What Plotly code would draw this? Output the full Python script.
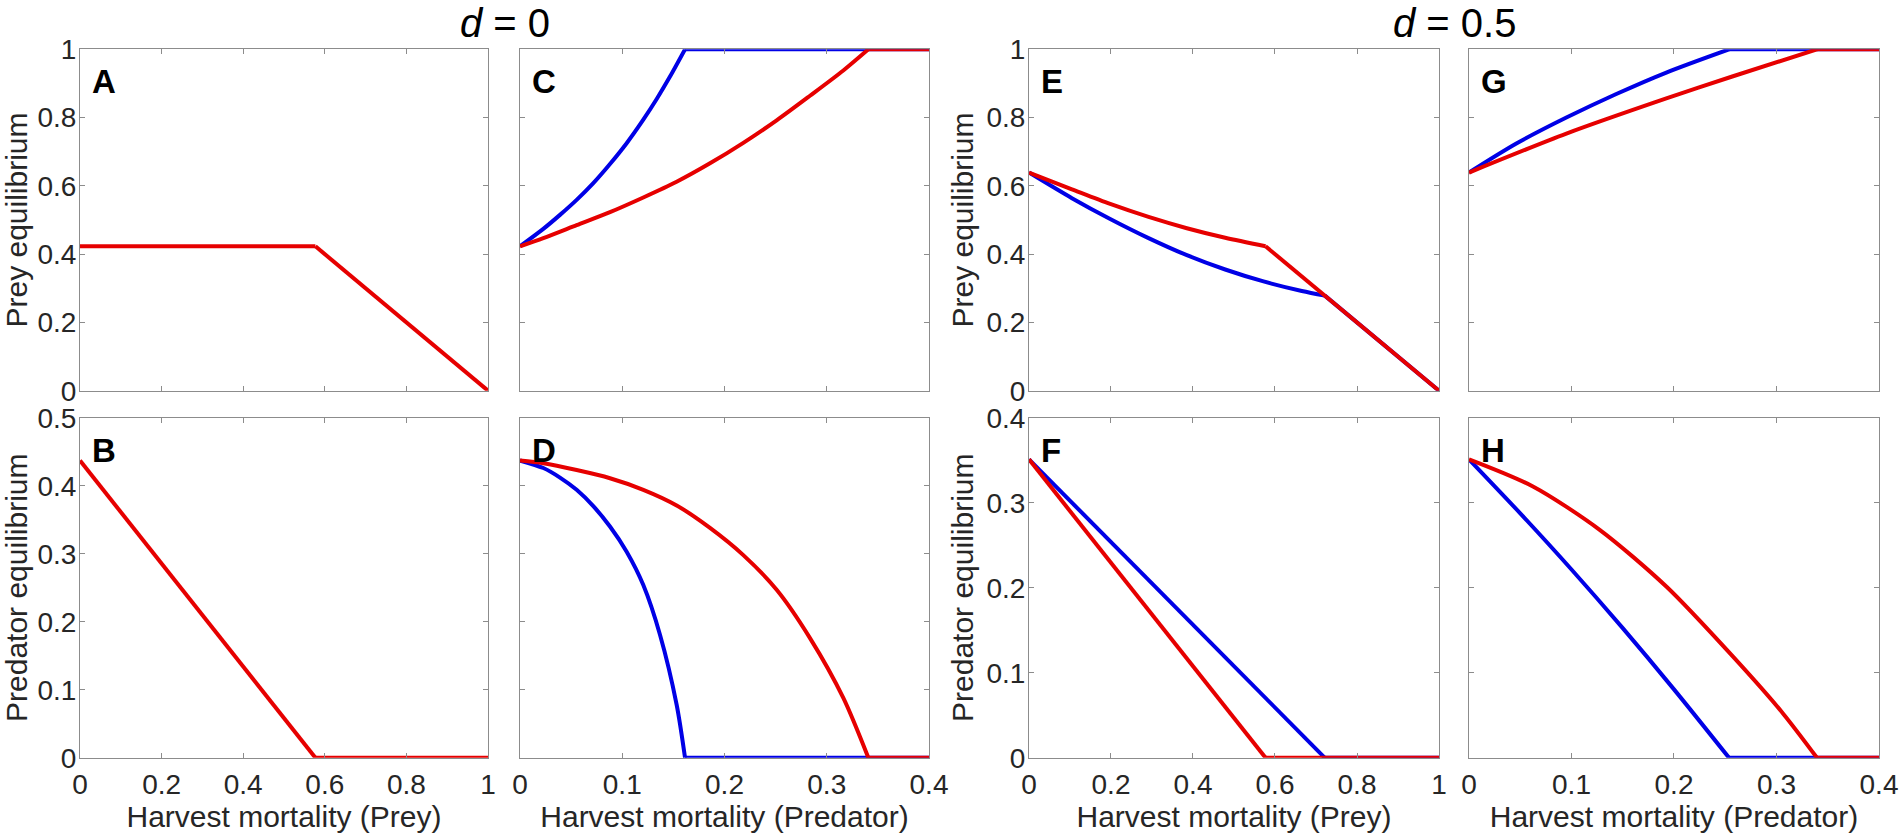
import plotly.graph_objects as go
from plotly.subplots import make_subplots

RED = "#e60000"
BLUE = "#0000e6"
FONT = "Arial, 'Liberation Sans', sans-serif"
INK = "#262626"
AXIS = "#8c8c8c"

# Each curve: smooth part (h, value) read off the figure, then a straight
# tail from the last smooth point to the given end point.

# ---- d = 0 ----
# A: prey equilibrium vs prey harvest
a_h_red = [0, 0.577]
a_prey_red = [0.423, 0.423]
a_end_red = (1, 0)
# B: predator equilibrium vs prey harvest
b_h_red = [0, 0.577]
b_pred_red = [0.437, 0]
b_end_red = (1, 0)
# C: prey equilibrium vs predator harvest
c_h_blue = [0, 0.0228, 0.0391, 0.0554, 0.0717, 0.088, 0.1043, 0.1206, 0.134, 0.1467, 0.1614]
c_prey_blue = [0.423, 0.474, 0.515, 0.559, 0.608, 0.664, 0.725, 0.794, 0.856, 0.920, 1.0]
c_end_blue = (0.4, 1.0)
c_h_red = [0, 0.0228, 0.0554, 0.088, 0.1206, 0.1532, 0.1858, 0.2184, 0.251, 0.2836, 0.3162, 0.3407]
c_prey_red = [0.423, 0.447, 0.485, 0.523, 0.566, 0.612, 0.666, 0.726, 0.792, 0.864, 0.938, 1.0]
c_end_red = (0.4, 1.0)
# D: predator equilibrium vs predator harvest
d_h_blue = [0, 0.0228, 0.0391, 0.0554, 0.0717, 0.088, 0.1043, 0.1206, 0.1369, 0.1532, 0.1614]
d_pred_blue = [0.437, 0.426, 0.412, 0.394, 0.370, 0.340, 0.303, 0.254, 0.181, 0.078, 0]
d_end_blue = (0.4, 0)
d_h_red = [0, 0.0228, 0.0554, 0.088, 0.1206, 0.1532, 0.1858, 0.2184, 0.251, 0.2836, 0.3162, 0.3407]
d_pred_red = [0.437, 0.433, 0.423, 0.411, 0.394, 0.371, 0.338, 0.298, 0.247, 0.176, 0.088, 0]
d_end_red = (0.4, 0)

# ---- d = 0.5 ----
e_h_blue = [0, 0.1047, 0.198, 0.2916, 0.385, 0.4785, 0.572, 0.6654, 0.7215]
e_prey_blue = [0.639, 0.564, 0.503, 0.447, 0.397, 0.355, 0.320, 0.292, 0.2785]
e_end_blue = (1, 0)
e_h_red = [0, 0.1047, 0.198, 0.2916, 0.385, 0.4785, 0.577]
e_prey_red = [0.639, 0.590, 0.547, 0.509, 0.476, 0.448, 0.423]
e_end_red = (1, 0)
f_h_blue = [0, 0.7215]
f_pred_blue = [0.351, 0]
f_end_blue = (1, 0)
f_h_red = [0, 0.577]
f_pred_red = [0.351, 0]
f_end_red = (1, 0)
g_h_blue = [0, 0.0462, 0.095, 0.1437, 0.1925, 0.2537]
g_prey_blue = [0.639, 0.724, 0.800, 0.869, 0.932, 1.0]
g_end_blue = (0.4, 1.0)
g_h_red = [0, 0.095, 0.1925, 0.2576, 0.3395]
g_prey_red = [0.639, 0.753, 0.856, 0.921, 1.0]
g_end_red = (0.4, 1.0)
h_h_blue = [0, 0.05, 0.1, 0.15, 0.2, 0.2537]
h_pred_blue = [0.351, 0.2875, 0.2215, 0.1525, 0.0805, 0]
h_end_blue = (0.4, 0)
h_h_red = [0, 0.0624, 0.1275, 0.1925, 0.2576, 0.3063, 0.3395]
h_pred_red = [0.351, 0.3191, 0.2681, 0.2014, 0.1189, 0.0522, 0]
h_end_red = (0.4, 0)

panels = [
    # letter, row, col, blue, red
    ("A", 1, 1, None, (a_h_red, a_prey_red, a_end_red)),
    ("C", 1, 2, (c_h_blue, c_prey_blue, c_end_blue), (c_h_red, c_prey_red, c_end_red)),
    ("E", 1, 3, (e_h_blue, e_prey_blue, e_end_blue), (e_h_red, e_prey_red, e_end_red)),
    ("G", 1, 4, (g_h_blue, g_prey_blue, g_end_blue), (g_h_red, g_prey_red, g_end_red)),
    ("B", 2, 1, None, (b_h_red, b_pred_red, b_end_red)),
    ("D", 2, 2, (d_h_blue, d_pred_blue, d_end_blue), (d_h_red, d_pred_red, d_end_red)),
    ("F", 2, 3, (f_h_blue, f_pred_blue, f_end_blue), (f_h_red, f_pred_red, f_end_red)),
    ("H", 2, 4, (h_h_blue, h_pred_blue, h_end_blue), (h_h_red, h_pred_red, h_end_red)),
]

col_domains = [[0.04202, 0.25630], [0.27311, 0.48792], [0.54044, 0.75578], [0.77153, 0.98687]]
row_domains = [[0.53321, 0.94110], [0.09462, 0.50096]]

fig = make_subplots(rows=2, cols=4)

for letter, r, c, blue, red in panels:
    for series, color in ((blue, BLUE), (red, RED)):
        if series is None:
            continue
        hx, vy, end = series
        line = dict(color=color, width=4)
        fig.add_trace(go.Scatter(x=hx, y=vy, mode="lines",
                                 line=dict(line, shape="spline", smoothing=0.8),
                                 showlegend=False, hoverinfo="skip"),
                      row=r, col=c)
        fig.add_trace(go.Scatter(x=[hx[-1], end[0]], y=[vy[-1], end[1]], mode="lines",
                                 line=line, showlegend=False, hoverinfo="skip"),
                      row=r, col=c)

axis_common = dict(showline=True, linecolor=AXIS, linewidth=1, mirror="ticks",
                   ticks="inside", ticklen=5, tickcolor=AXIS, showgrid=False,
                   zeroline=False, automargin=False,
                   tickfont=dict(family=FONT, size=28, color=INK))

for r in (1, 2):
    for c in (1, 2, 3, 4):
        wide = c in (1, 3)
        fig.update_xaxes(axis_common, domain=col_domains[c - 1],
                         range=[0, 1] if wide else [0, 0.4],
                         dtick=0.2 if wide else 0.1, ticklabelstandoff=2,
                         showticklabels=(r == 2), row=r, col=c)
        if r == 1:
            yr, dt = [0, 1], 0.2
        elif c <= 2:
            yr, dt = [0, 0.5], 0.1
        else:
            yr, dt = [0, 0.4], 0.1
        fig.update_yaxes(axis_common, domain=row_domains[r - 1], range=yr, dtick=dt,
                         showticklabels=wide, ticklabelstandoff=-3, row=r, col=c)

title_font = dict(family=FONT, size=30, color=INK)
for c in (1, 3):
    fig.update_yaxes(title=dict(text="Prey equilibrium", font=title_font, standoff=3), row=1, col=c)
    fig.update_yaxes(title=dict(text="Predator equilibrium", font=title_font, standoff=3), row=2, col=c)
for c, txt in ((1, "Harvest mortality (Prey)"), (2, "Harvest mortality (Predator)"),
               (3, "Harvest mortality (Prey)"), (4, "Harvest mortality (Predator)")):
    fig.update_xaxes(title=dict(text=txt, font=title_font, standoff=4), row=2, col=c)

annotations = []
for i, (letter, r, c, _, _) in enumerate(panels):
    ref = "" if i == 0 else str(i + 1)
    annotations.append(dict(text="<b>%s</b>" % letter, xref="x%s domain" % ref,
                            yref="y%s domain" % ref, x=0.025, y=0.965,
                            xanchor="left", yanchor="top", showarrow=False,
                            font=dict(family=FONT, size=33, color="black")))

for txt, xc in (("<i>d</i> = 0", 0.26497), ("<i>d</i> = 0.5", 0.76366)):
    annotations.append(dict(text=txt, xref="paper", yref="paper", x=xc, y=0.973,
                            xanchor="center", yanchor="middle", showarrow=False,
                            font=dict(family=FONT, size=40, color="black")))

fig.update_layout(width=1904, height=837, margin=dict(l=0, r=0, t=0, b=0),
                  paper_bgcolor="white", plot_bgcolor="white",
                  annotations=annotations)

# the page body has a default 8px margin; drop it so the figure sits at 0,0
fig.write_html("out.html", config={"displayModeBar": False},
               post_script="document.body.style.margin='0px';")
